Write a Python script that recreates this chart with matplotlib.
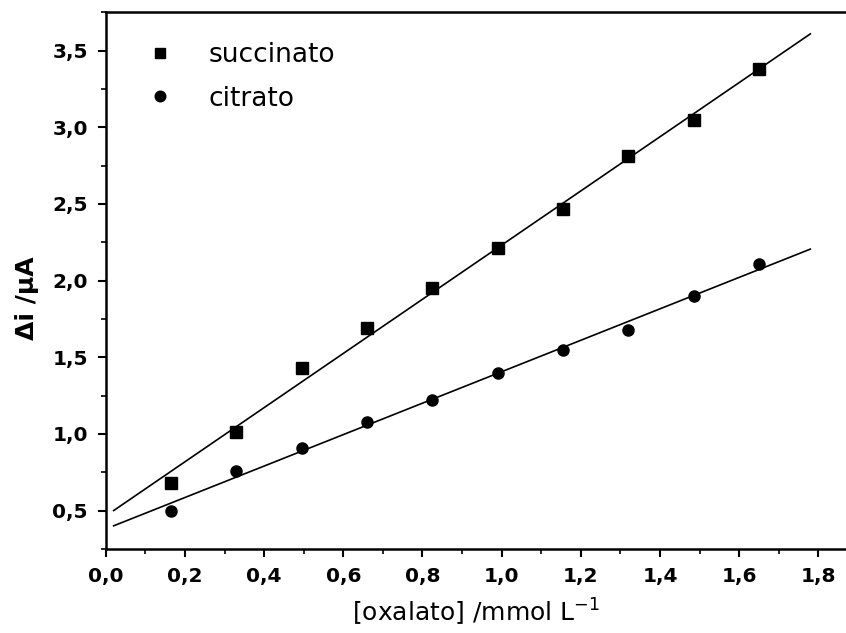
import numpy as np
import matplotlib.pyplot as plt
from matplotlib.ticker import MultipleLocator, FuncFormatter

# data
oxalato = [0.165, 0.33, 0.495, 0.66, 0.825, 0.99, 1.155, 1.32, 1.485, 1.65]
succinato = [0.68, 1.01, 1.43, 1.69, 1.95, 2.21, 2.47, 2.81, 3.05, 3.38]
citrato = [0.50, 0.76, 0.91, 1.08, 1.22, 1.40, 1.55, 1.68, 1.90, 2.11]
fit_range = [0.02, 1.78]

plt.rcParams["font.family"] = ["DejaVu Sans"]

fig = plt.figure(figsize=(8.46, 6.33), dpi=100)
ax = fig.add_axes([0.125, 0.1327, 0.875, 0.848])

xf = np.array(fit_range)
for y, mk, lab in [(succinato, "s", "succinato"), (citrato, "o", "citrato")]:
    ax.plot(oxalato, y, linestyle="none", marker=mk, color="black",
            markersize=8, label=lab)
    k, b = np.polyfit(oxalato, y, 1)
    ax.plot(xf, k * xf + b, color="black", linewidth=1.2)

ax.set_xlim(0, 1.87)
ax.set_ylim(0.25, 3.75)

ax.xaxis.set_major_locator(MultipleLocator(0.2))
ax.xaxis.set_minor_locator(MultipleLocator(0.1))
ax.yaxis.set_major_locator(MultipleLocator(0.5))
ax.yaxis.set_minor_locator(MultipleLocator(0.25))
comma = FuncFormatter(lambda v, p: f"{v:.1f}".replace(".", ","))
ax.xaxis.set_major_formatter(comma)
ax.yaxis.set_major_formatter(comma)

ax.tick_params(which="major", direction="out", length=6, width=1.5,
               labelsize=14.5, pad=7)
ax.tick_params(which="minor", direction="out", length=3.5, width=1.2)
for lbl in ax.get_xticklabels() + ax.get_yticklabels():
    lbl.set_fontweight("bold")

ax.spines["right"].set_visible(False)
for s in ["left", "bottom", "top"]:
    ax.spines[s].set_linewidth(1.8)

ax.set_xlabel("[oxalato] /mmol L$^{\\mathregular{-1}}$", fontsize=18, labelpad=8)
ax.set_ylabel("Δi /μA", fontsize=18, fontweight="bold")
ax.yaxis.set_label_coords(-0.09, 0.467)

ax.legend(loc="upper left", bbox_to_anchor=(0.023, 0.988), frameon=False,
          fontsize=19, handlelength=1.0, handletextpad=1.35,
          labelspacing=0.65, markerscale=0.95)

fig.savefig("out.png", dpi=100)
